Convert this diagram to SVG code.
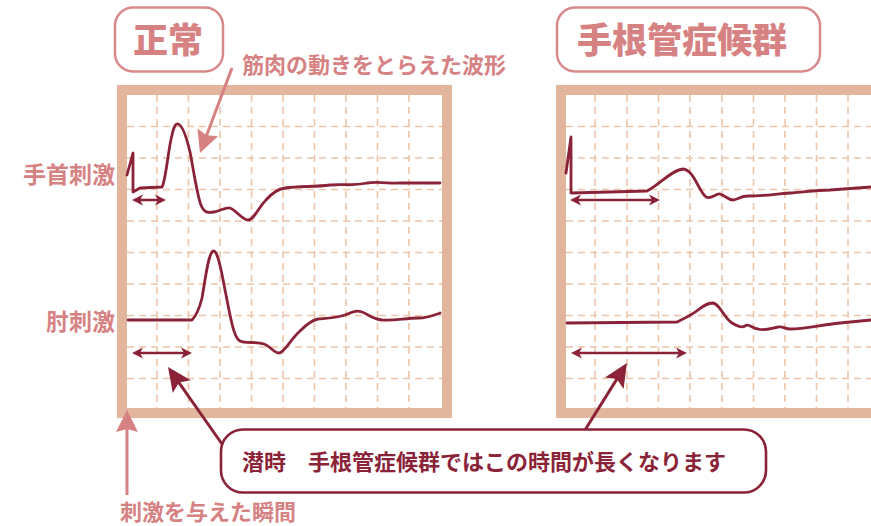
<svg xmlns="http://www.w3.org/2000/svg" width="871" height="526" viewBox="0 0 871 526">
<style>
.frame{fill:none;stroke:#e1b69c;stroke-width:10}
.grid line{stroke:#ecc5ab;stroke-width:1.6;stroke-dasharray:7 5}
.wave{fill:none;stroke:#8b2338;stroke-width:2.8;stroke-linejoin:round;stroke-linecap:round}
.dbl{stroke:#8b2338;stroke-width:2.6;marker-start:url(#sh);marker-end:url(#sh)}
.conn{stroke:#8b2338;stroke-width:3;fill:none;marker-end:url(#bh)}
.pconn{stroke:#d68283;stroke-width:3;fill:none}
.ptxt{font-family:"Noto Sans CJK JP",sans-serif;fill:#d68283;font-weight:700}
.title{font-family:"Noto Sans CJK JP",sans-serif;fill:#d68283;font-weight:900;font-size:35px;text-anchor:middle}
.tbox{fill:#fff;stroke:#d88a8b;stroke-width:2.5}
</style>
<defs>
<marker id="sh" markerUnits="userSpaceOnUse" viewBox="-8 -6 14 12" refX="0" refY="0" markerWidth="14" markerHeight="12" orient="auto-start-reverse">
<path d="M4,0 L-7,-5.5 L-4,0 L-7,5.5 Z" fill="#8b2338"/>
</marker>
<marker id="bh" markerUnits="userSpaceOnUse" viewBox="-14 -13 28 26" refX="0" refY="0" markerWidth="28" markerHeight="26" orient="auto">
<path d="M12,0 L-12,-11 L-7,0 L-12,11 Z" fill="#8b2338"/>
</marker>
<marker id="ph" markerUnits="userSpaceOnUse" viewBox="-14 -13 28 26" refX="0" refY="0" markerWidth="28" markerHeight="26" orient="auto">
<path d="M12,0 L-10,-11 L-7,0 L-10,11 Z" fill="#d68283"/>
</marker>
</defs>
<rect width="871" height="526" fill="#fff"/>

<g id="normal-panel">
<g class="grid">
<line x1="157" y1="95" x2="157" y2="408"/><line x1="188.5" y1="95" x2="188.5" y2="408"/><line x1="220" y1="95" x2="220" y2="408"/><line x1="251.5" y1="95" x2="251.5" y2="408"/><line x1="283" y1="95" x2="283" y2="408"/><line x1="314.5" y1="95" x2="314.5" y2="408"/><line x1="346" y1="95" x2="346" y2="408"/><line x1="377.5" y1="95" x2="377.5" y2="408"/><line x1="409" y1="95" x2="409" y2="408"/>
<line x1="127" y1="126.5" x2="442" y2="126.5"/><line x1="127" y1="158" x2="442" y2="158"/><line x1="127" y1="189.5" x2="442" y2="189.5"/><line x1="127" y1="221" x2="442" y2="221"/><line x1="127" y1="252.5" x2="442" y2="252.5"/><line x1="127" y1="284" x2="442" y2="284"/><line x1="127" y1="315.5" x2="442" y2="315.5"/><line x1="127" y1="347" x2="442" y2="347"/><line x1="127" y1="378.5" x2="442" y2="378.5"/>
</g>
<rect class="frame" x="122" y="90" width="325" height="323"/>
<path class="wave" d="M127,175 L133,153 L133,192 L140,188 L162,187 C166,180 168,150 172,135 C174,126 176,123 178,124 C182,125 186,135 190,152 C194,172 197,195 201,205 C204,213 208,213 214,212 C220,211 226,207 230,208 C236,210 242,220 248,220 C254,220 258,208 266,200 C272,193 278,189 285,188 C300,186 315,187 330,185 C345,184 352,186 367,183 C380,181 390,184 400,183 L440,183"/>
<path class="wave" d="M128,320 L192,320 C196,316 199,310 202,298 C205,282 208,254 213,251 C218,249 222,275 227,300 C231,320 234,338 240,341 C246,344 256,341 264,344 C270,346 274,353 279,353 C284,353 290,340 300,331 C306,325 312,320 318,319 C330,318 335,318 345,315 C352,312 356,310 362,312 C368,314 372,319 382,320 C395,321 405,318 418,318 C428,318 432,316 440,313"/>
<line class="dbl" x1="136" y1="200" x2="162" y2="200"/>
<line class="dbl" x1="136" y1="353" x2="188" y2="353"/>
</g>

<g id="cts-panel">
<g class="grid">
<line x1="595" y1="95" x2="595" y2="408"/><line x1="627" y1="95" x2="627" y2="408"/><line x1="658.5" y1="95" x2="658.5" y2="408"/><line x1="690" y1="95" x2="690" y2="408"/><line x1="722" y1="95" x2="722" y2="408"/><line x1="753.5" y1="95" x2="753.5" y2="408"/><line x1="785" y1="95" x2="785" y2="408"/><line x1="816.5" y1="95" x2="816.5" y2="408"/><line x1="848" y1="95" x2="848" y2="408"/>
<line x1="566" y1="126.5" x2="871" y2="126.5"/><line x1="566" y1="158" x2="871" y2="158"/><line x1="566" y1="189.5" x2="871" y2="189.5"/><line x1="566" y1="221" x2="871" y2="221"/><line x1="566" y1="252.5" x2="871" y2="252.5"/><line x1="566" y1="284" x2="871" y2="284"/><line x1="566" y1="315.5" x2="871" y2="315.5"/><line x1="566" y1="347" x2="871" y2="347"/><line x1="566" y1="378.5" x2="871" y2="378.5"/>
</g>
<rect class="frame" x="561" y="90" width="330" height="323"/>
<path class="wave" d="M566,173 L571,137 L571,193 L647,191 C660,184 672,170 683,169 C694,170 698,190 706,197 C711,200 716,193 720,194 C726,196 728,200 733,200 C738,200 740,196 748,196 C765,196 775,194 790,193 C805,192 815,190 830,190 L871,187"/>
<path class="wave" d="M567,323 L677,322 C685,318 692,315 698,310 C703,306 707,303 713,303 C720,304 724,318 732,323 C737,326 742,328 745,326 C748,323 752,328 758,329 C765,331 772,328 778,327 C783,326 785,329 790,329 C805,329 820,325 840,323 L871,320"/>
<line class="dbl" x1="574" y1="200" x2="656" y2="200"/>
<line class="dbl" x1="575" y1="353" x2="683" y2="353"/>
</g>

<g id="title-normal">
<rect class="tbox" x="115" y="7.5" width="108" height="64" rx="18"/>
<text class="title" x="168" y="53">正常</text>
</g>
<g id="title-cts">
<rect class="tbox" x="557" y="7.5" width="263" height="64" rx="18"/>
<text class="title" x="682" y="53">手根管症候群</text>
</g>

<g id="label-wrist"><text class="ptxt" x="115" y="183" font-size="23" text-anchor="end">手首刺激</text></g>
<g id="label-elbow"><text class="ptxt" x="115" y="330" font-size="23" text-anchor="end">肘刺激</text></g>
<g id="label-muscle"><text class="ptxt" x="242" y="73" font-size="22">筋肉の動きをとらえた波形</text></g>
<g id="label-stim"><text class="ptxt" x="120" y="520" font-size="22">刺激を与えた瞬間</text></g>

<g id="connectors">
<path class="pconn" d="M232,68 L204.2,141.8" marker-end="url(#ph)"/>
<path class="pconn" d="M127,495 L127,422" marker-end="url(#ph)"/>
<path class="conn" d="M222,444 L174.9,376.8"/>
<path class="conn" d="M585,430 L620.6,373.1"/>
</g>

<g id="callout">
<rect x="221" y="429.5" width="545" height="63" rx="22" fill="#fff" stroke="#8b2338" stroke-width="2.6"/>
<text x="242" y="470" font-family="'Noto Sans CJK JP',sans-serif" font-weight="700" font-size="22" fill="#8b2338">潜時　手根管症候群ではこの時間が長くなります</text>
</g>
</svg>
